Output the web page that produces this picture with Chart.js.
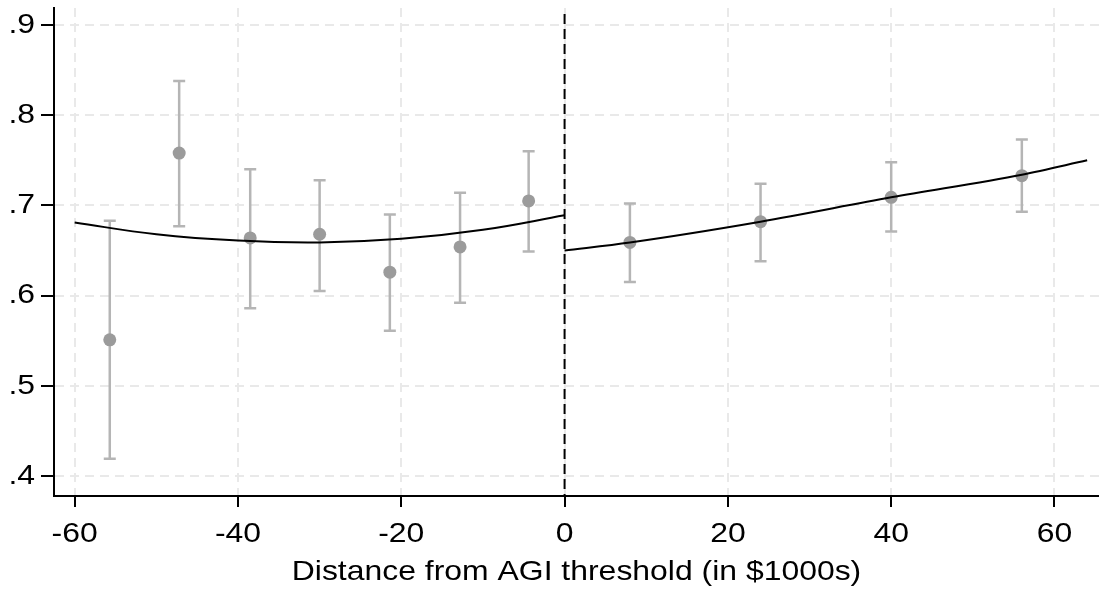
<!DOCTYPE html>
<html><head><meta charset="utf-8">
<script src="https://cdn.jsdelivr.net/npm/chart.js@4"></script>
<style>html,body{margin:0;padding:0;background:#fff}#wrap{width:1099px;height:591px}</style>
</head><body><div id="wrap"><canvas id="c" width="1099" height="591"></canvas></div>
<script>
// Binned means with 95% CIs
const binX    = [-55.7, -47.2, -38.5, -30.0, -21.4, -12.8, -4.4, 8, 24, 40, 56];
const binMean = [0.551, 0.758, 0.664, 0.668, 0.626, 0.654, 0.705, 0.659, 0.682, 0.709, 0.733];
const ciLow   = [0.419, 0.677, 0.586, 0.605, 0.561, 0.592, 0.649, 0.615, 0.638, 0.671, 0.693];
const ciHigh  = [0.683, 0.838, 0.740, 0.728, 0.690, 0.714, 0.760, 0.702, 0.724, 0.748, 0.773];
// Fitted lines on each side of the threshold
const leftFitX  = [-60, -50, -40, -30, -20, -10, 0];
const leftFitY  = [0.681, 0.668, 0.661, 0.659, 0.663, 0.673, 0.689];
const rightFitX = [0, 8, 24, 40, 56, 64];
const rightFitY = [0.650, 0.659, 0.682, 0.709, 0.734, 0.750];
// Axes
const xTicks = [-60, -40, -20, 0, 20, 40, 60];
const yTicks = [0.4, 0.5, 0.6, 0.7, 0.8, 0.9];
const threshold = 0;
const xTitle = 'Distance from AGI threshold (in $1000s)';

const FONT = "'Liberation Sans', Arial, sans-serif";
const TEXT_STRETCH = 1.14;
Chart.defaults.font.family = FONT;

const toPts = (xs, ys) => xs.map((x, i) => ({x: x, y: ys[i]}));

const wideText = {
  id: 'wideText',
  beforeInit(chart) {
    const ctx = chart.ctx;
    const orig = ctx.fillText;
    ctx.fillText = function (text, x, y, maxWidth) {
      this.save();
      this.translate(x, y);
      this.scale(TEXT_STRETCH, 1);
      if (maxWidth === undefined) orig.call(this, text, 0, 0);
      else orig.call(this, text, 0, 0, maxWidth / TEXT_STRETCH);
      this.restore();
    };
  }
};

const errorBars = {
  id: 'errorBars',
  beforeDatasetsDraw(chart) {
    const xs = chart.scales.x, ys = chart.scales.y, ctx = chart.ctx;
    ctx.save();
    ctx.strokeStyle = '#b5b5b5';
    ctx.lineWidth = 2.5;
    binX.forEach((x, i) => {
      const px = xs.getPixelForValue(x);
      const lo = ys.getPixelForValue(ciLow[i]);
      const hi = ys.getPixelForValue(ciHigh[i]);
      ctx.beginPath();
      ctx.moveTo(px, lo); ctx.lineTo(px, hi);
      ctx.moveTo(px - 6, lo); ctx.lineTo(px + 6, lo);
      ctx.moveTo(px - 6, hi); ctx.lineTo(px + 6, hi);
      ctx.stroke();
    });
    ctx.restore();
  },
  afterDatasetsDraw(chart) {
    const xs = chart.scales.x, a = chart.chartArea, ctx = chart.ctx;
    const px = xs.getPixelForValue(threshold);
    ctx.save();
    ctx.strokeStyle = '#000';
    ctx.lineWidth = 2;
    ctx.setLineDash([10, 5]);
    ctx.beginPath();
    ctx.moveTo(px, a.top + 6); ctx.lineTo(px, a.bottom);
    ctx.stroke();
    ctx.restore();
  }
};

new Chart(document.getElementById('c'), {
  type: 'scatter',
  data: {
    datasets: [
      {type: 'line', data: toPts(leftFitX, leftFitY), borderColor: '#000', borderWidth: 2, pointRadius: 0, tension: 0.4, fill: false, order: 0},
      {type: 'line', data: toPts(rightFitX, rightFitY), borderColor: '#000', borderWidth: 2, pointRadius: 0, cubicInterpolationMode: 'monotone', fill: false, order: 0},
      {data: toPts(binX, binMean), backgroundColor: '#9b9b9b', borderColor: '#9b9b9b', pointRadius: 6.5, borderWidth: 0, order: 1}
    ]
  },
  options: {
    responsive: false,
    animation: false,
    devicePixelRatio: 1,
    layout: {autoPadding: false, padding: {top: 8, right: 0, left: 0, bottom: 0}},
    plugins: {legend: {display: false}, tooltip: {enabled: false}},
    scales: {
      x: {
        type: 'linear', min: -62.53, max: 65.45,
        afterBuildTicks: s => { s.ticks = xTicks.map(v => ({value: v})); },
        afterFit: s => { s.height = 95; s.paddingLeft = 0; s.paddingRight = 0; },
        border: {display: true, color: '#000', width: 2, dash: [9, 6]},
        grid: {color: '#e9e9e9', lineWidth: 2, tickColor: '#000', tickWidth: 2, tickLength: 11, tickBorderDash: []},
        ticks: {color: '#000', font: {size: 28, family: FONT}, padding: 10, maxRotation: 0, autoSkip: false},
        title: {display: true, text: xTitle, color: '#000', font: {size: 28, family: FONT}, padding: {top: 0, bottom: 2}}
      },
      y: {
        type: 'linear', min: 0.3778, max: 0.9189,
        afterBuildTicks: s => { s.ticks = yTicks.map(v => ({value: v})); },
        afterFit: s => { s.width = 54; s.paddingTop = 0; s.paddingBottom = 0; },
        border: {display: true, color: '#000', width: 2, dash: [9, 6]},
        grid: {color: '#e9e9e9', lineWidth: 2, tickColor: '#000', tickWidth: 2, tickLength: 13, tickBorderDash: []},
        ticks: {color: '#000', font: {size: 28, family: FONT}, padding: 6, autoSkip: false,
          callback: v => v.toFixed(1).replace(/^0/, '')}
      }
    }
  },
  plugins: [wideText, errorBars]
});
</script>
</body></html>
